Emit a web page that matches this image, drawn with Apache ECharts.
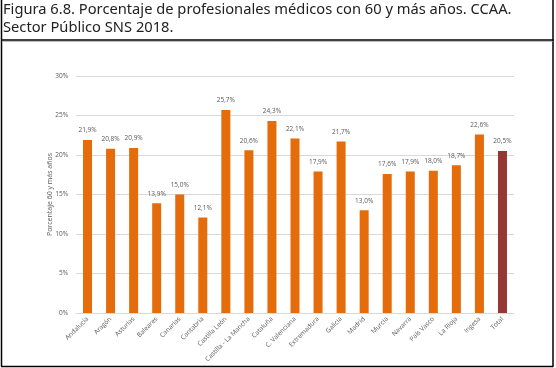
<!DOCTYPE html>
<html><head><meta charset="utf-8">
<script src="https://cdn.jsdelivr.net/npm/echarts@6/dist/echarts.min.js"></script>
<style>html,body{margin:0;padding:0;background:#fff;}#c{width:556px;height:368px;}</style>
</head><body><div id="c"></div>
<script>
const categories = ["Andalucía","Aragón","Asturias","Baleares","Canarias","Cantabria","Castilla León","Castilla - La Mancha","Cataluña","C. Valenciana","Extremadura","Galicia","Madrid","Murcia","Navarra","País Vasco","La Rioja","Ingesa","Total"];
const values = [21.9,20.8,20.9,13.9,15.0,12.1,25.7,20.6,24.3,22.1,17.9,21.7,13.0,17.6,17.9,18.0,18.7,22.6,20.5];
const titleLines = ["Figura 6.8. Porcentaje de profesionales médicos con 60 y más años. CCAA.","Sector Público SNS 2018."];
const yAxisTitle = "Porcentaje 60 y más años";
const barColor = "#E46C0A", totalColor = "#953735";

const chart = echarts.init(document.getElementById('c'), null, {renderer:'canvas'});
chart.setOption({
  animation:false,
  grid:{left:76,right:42,top:76,bottom:55},
  xAxis:{type:'category',data:categories,
    axisLine:{lineStyle:{color:'#d9d9d9'}},axisTick:{show:false},
    axisLabel:{rotate:45,fontSize:6.5,color:'#595959',interval:0,margin:5,fontFamily:'Open Sans'}},
  yAxis:{type:'value',min:0,max:30,interval:5,name:yAxisTitle,nameLocation:'middle',nameGap:23,nameRotate:90,
    nameMoveOverlap:false,
    nameTextStyle:{fontSize:7,color:'#595959',fontFamily:'Open Sans'},
    axisLabel:{formatter:v=>v+'%',fontSize:6.5,color:'#595959',margin:8,fontFamily:'Open Sans'},
    splitLine:{lineStyle:{color:'#d9d9d9',width:1}},axisLine:{show:false},axisTick:{show:false}},
  series:[{type:'bar',barWidth:9,
    data:values.map((v,i)=>({value:v,itemStyle:{color:categories[i]==='Total'?totalColor:barColor}})),
    label:{show:true,position:'top',distance:6,fontSize:6.5,color:'#595959',fontFamily:'Open Sans',
      formatter:p=>p.value.toFixed(1).replace('.',',')+'%'}}],
  graphic:[
    {type:'text',left:3,top:2,style:{text:titleLines[0],font:'14.7px "Noto Sans"',fill:'#222'}},
    {type:'text',left:3,top:20,style:{text:titleLines[1],font:'14.7px "Noto Sans"',fill:'#222'}},
    {type:'line',shape:{x1:1.5,y1:0,x2:1.5,y2:366.5},style:{stroke:'#000',lineWidth:1.5}},
    {type:'line',shape:{x1:553,y1:0,x2:553,y2:366.5},style:{stroke:'#000',lineWidth:1.5}},
    {type:'line',shape:{x1:1,y1:40,x2:553.5,y2:40},style:{stroke:'#000',lineWidth:1.5}},
    {type:'line',shape:{x1:2,y1:41.5,x2:552.5,y2:41.5},style:{stroke:'#bbb',lineWidth:1}},
    {type:'line',shape:{x1:1,y1:366.5,x2:553.5,y2:366.5},style:{stroke:'#000',lineWidth:1.5}}
  ]
});
</script></body></html>
